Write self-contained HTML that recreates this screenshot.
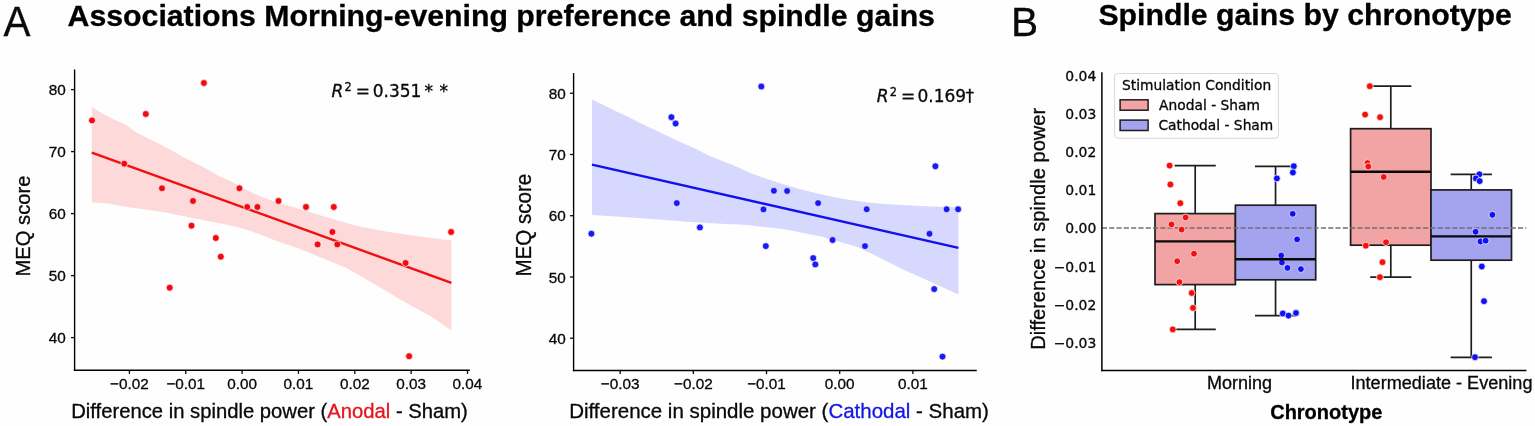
<!DOCTYPE html>
<html><head><meta charset="utf-8"><title>Spindle gains figure</title>
<style>
html,body{margin:0;padding:0;background:#fefefe;}
body{width:1535px;height:426px;overflow:hidden;}
svg{display:block;}
text{stroke:#000;stroke-width:0.3px;}
</style></head>
<body>
<svg width="1535" height="426" viewBox="0 0 1535 426">
<rect width="1535" height="426" fill="#fefefe"/>
<text transform="translate(3.4,35.9) scale(0.94,1)" font-size="43" font-family='"Liberation Sans", Arial, Helvetica, sans-serif' fill="#0a0a0a">A</text>
<text transform="translate(1010.9,35.6) scale(0.98,1.0)" font-size="41.5" font-family='"Liberation Sans", Arial, Helvetica, sans-serif' fill="#0a0a0a">B</text>
<text x="67.60" y="25.80" font-size="30.25" font-family='"Liberation Sans", Arial, sans-serif' text-anchor="start" font-weight="bold" fill="#000" >Associations Morning-evening preference and spindle gains</text>
<text x="1098.40" y="25.30" font-size="30.25" font-family='"Liberation Sans", Arial, sans-serif' text-anchor="start" font-weight="bold" fill="#000" >Spindle gains by chronotype</text>
<polygon points="91.8,107.0 104.1,114.5 113.5,119.2 125.2,124.6 136.9,132.8 148.7,138.7 160.4,144.6 172.1,150.4 183.8,157.5 195.6,163.3 207.3,169.2 219.0,176.2 230.8,180.9 241.5,187.5 251.7,192.5 263.5,197.7 275.2,201.7 286.9,205.2 298.7,208.7 310.4,212.2 322.1,215.7 333.8,219.3 345.6,222.8 357.3,226.0 370.5,228.5 385.8,231.4 401.0,233.8 416.3,235.9 431.5,238.1 451.4,240.5 451.4,330.5 431.5,316.8 401.0,300.0 370.5,281.7 345.6,267.4 333.8,262.7 322.1,258.0 310.4,253.3 298.7,248.6 286.9,244.6 275.2,240.4 263.5,235.7 251.7,231.5 237.5,226.9 225.8,224.6 214.0,222.2 202.3,219.9 190.6,217.5 178.8,215.2 167.1,212.8 155.4,211.0 143.7,209.3 131.9,207.7 120.2,205.8 108.5,203.5 91.8,202.3" fill="#fdd9d9" stroke="none"/>
<line x1="91.80" y1="152.60" x2="451.40" y2="282.80" stroke="#ee1111" stroke-width="2.4" stroke-linecap="butt"/>
<circle cx="92.0" cy="120.4" r="3.45" fill="#f20a12" stroke="#fff" stroke-width="0.7"/>
<circle cx="145.8" cy="114.0" r="3.45" fill="#f20a12" stroke="#fff" stroke-width="0.7"/>
<circle cx="203.9" cy="83.0" r="3.45" fill="#f20a12" stroke="#fff" stroke-width="0.7"/>
<circle cx="124.3" cy="163.7" r="3.45" fill="#f20a12" stroke="#fff" stroke-width="0.7"/>
<circle cx="162.0" cy="188.3" r="3.45" fill="#f20a12" stroke="#fff" stroke-width="0.7"/>
<circle cx="193.0" cy="201.0" r="3.45" fill="#f20a12" stroke="#fff" stroke-width="0.7"/>
<circle cx="239.4" cy="188.3" r="3.45" fill="#f20a12" stroke="#fff" stroke-width="0.7"/>
<circle cx="247.2" cy="207.0" r="3.45" fill="#f20a12" stroke="#fff" stroke-width="0.7"/>
<circle cx="257.4" cy="207.0" r="3.45" fill="#f20a12" stroke="#fff" stroke-width="0.7"/>
<circle cx="278.5" cy="201.0" r="3.45" fill="#f20a12" stroke="#fff" stroke-width="0.7"/>
<circle cx="306.0" cy="207.0" r="3.45" fill="#f20a12" stroke="#fff" stroke-width="0.7"/>
<circle cx="333.8" cy="207.0" r="3.45" fill="#f20a12" stroke="#fff" stroke-width="0.7"/>
<circle cx="191.5" cy="225.7" r="3.45" fill="#f20a12" stroke="#fff" stroke-width="0.7"/>
<circle cx="215.8" cy="238.0" r="3.45" fill="#f20a12" stroke="#fff" stroke-width="0.7"/>
<circle cx="220.8" cy="256.7" r="3.45" fill="#f20a12" stroke="#fff" stroke-width="0.7"/>
<circle cx="169.7" cy="287.7" r="3.45" fill="#f20a12" stroke="#fff" stroke-width="0.7"/>
<circle cx="332.4" cy="232.0" r="3.45" fill="#f20a12" stroke="#fff" stroke-width="0.7"/>
<circle cx="317.6" cy="244.4" r="3.45" fill="#f20a12" stroke="#fff" stroke-width="0.7"/>
<circle cx="337.3" cy="244.4" r="3.45" fill="#f20a12" stroke="#fff" stroke-width="0.7"/>
<circle cx="405.6" cy="263.0" r="3.45" fill="#f20a12" stroke="#fff" stroke-width="0.7"/>
<circle cx="451.1" cy="232.0" r="3.45" fill="#f20a12" stroke="#fff" stroke-width="0.7"/>
<circle cx="409.1" cy="356.2" r="3.45" fill="#f20a12" stroke="#fff" stroke-width="0.7"/>
<line x1="74.60" y1="69.40" x2="74.60" y2="371.00" stroke="#000000" stroke-width="1.4" />
<line x1="73.90" y1="370.30" x2="469.80" y2="370.30" stroke="#000000" stroke-width="1.4" />
<line x1="71.00" y1="337.60" x2="74.60" y2="337.60" stroke="#0a0a0a" stroke-width="1.3" />
<text transform="translate(65.80,343.20) scale(1,1.001)" font-size="15.3" font-family='"Liberation Sans", Arial, sans-serif' text-anchor="end" font-weight="normal" fill="#0a0a0a" >40</text>
<line x1="71.00" y1="275.60" x2="74.60" y2="275.60" stroke="#0a0a0a" stroke-width="1.3" />
<text transform="translate(65.80,281.20) scale(1,1.001)" font-size="15.3" font-family='"Liberation Sans", Arial, sans-serif' text-anchor="end" font-weight="normal" fill="#0a0a0a" >50</text>
<line x1="71.00" y1="213.60" x2="74.60" y2="213.60" stroke="#0a0a0a" stroke-width="1.3" />
<text transform="translate(65.80,219.20) scale(1,1.001)" font-size="15.3" font-family='"Liberation Sans", Arial, sans-serif' text-anchor="end" font-weight="normal" fill="#0a0a0a" >60</text>
<line x1="71.00" y1="151.60" x2="74.60" y2="151.60" stroke="#0a0a0a" stroke-width="1.3" />
<text transform="translate(65.80,157.20) scale(1,1.001)" font-size="15.3" font-family='"Liberation Sans", Arial, sans-serif' text-anchor="end" font-weight="normal" fill="#0a0a0a" >70</text>
<line x1="71.00" y1="89.60" x2="74.60" y2="89.60" stroke="#0a0a0a" stroke-width="1.3" />
<text transform="translate(65.80,95.20) scale(1,1.001)" font-size="15.3" font-family='"Liberation Sans", Arial, sans-serif' text-anchor="end" font-weight="normal" fill="#0a0a0a" >80</text>
<line x1="129.40" y1="370.30" x2="129.40" y2="373.90" stroke="#0a0a0a" stroke-width="1.3" />
<text transform="translate(129.40,389.40) scale(1,1.001)" font-size="15.3" font-family='"Liberation Sans", Arial, sans-serif' text-anchor="middle" font-weight="normal" fill="#0a0a0a" >−0.02</text>
<line x1="185.75" y1="370.30" x2="185.75" y2="373.90" stroke="#0a0a0a" stroke-width="1.3" />
<text transform="translate(185.75,389.40) scale(1,1.001)" font-size="15.3" font-family='"Liberation Sans", Arial, sans-serif' text-anchor="middle" font-weight="normal" fill="#0a0a0a" >−0.01</text>
<line x1="242.10" y1="370.30" x2="242.10" y2="373.90" stroke="#0a0a0a" stroke-width="1.3" />
<text transform="translate(242.10,389.40) scale(1,1.001)" font-size="15.3" font-family='"Liberation Sans", Arial, sans-serif' text-anchor="middle" font-weight="normal" fill="#0a0a0a" >0.00</text>
<line x1="298.45" y1="370.30" x2="298.45" y2="373.90" stroke="#0a0a0a" stroke-width="1.3" />
<text transform="translate(298.45,389.40) scale(1,1.001)" font-size="15.3" font-family='"Liberation Sans", Arial, sans-serif' text-anchor="middle" font-weight="normal" fill="#0a0a0a" >0.01</text>
<line x1="354.80" y1="370.30" x2="354.80" y2="373.90" stroke="#0a0a0a" stroke-width="1.3" />
<text transform="translate(354.80,389.40) scale(1,1.001)" font-size="15.3" font-family='"Liberation Sans", Arial, sans-serif' text-anchor="middle" font-weight="normal" fill="#0a0a0a" >0.02</text>
<line x1="411.15" y1="370.30" x2="411.15" y2="373.90" stroke="#0a0a0a" stroke-width="1.3" />
<text transform="translate(411.15,389.40) scale(1,1.001)" font-size="15.3" font-family='"Liberation Sans", Arial, sans-serif' text-anchor="middle" font-weight="normal" fill="#0a0a0a" >0.03</text>
<line x1="467.50" y1="370.30" x2="467.50" y2="373.90" stroke="#0a0a0a" stroke-width="1.3" />
<text transform="translate(467.50,389.40) scale(1,1.001)" font-size="15.3" font-family='"Liberation Sans", Arial, sans-serif' text-anchor="middle" font-weight="normal" fill="#0a0a0a" >0.04</text>
<polygon points="592.0,99.4 603.8,105.2 615.5,111.1 627.2,116.3 639.0,122.4 650.7,128.0 662.4,133.4 674.1,139.3 685.9,144.4 697.6,149.8 709.3,155.7 721.1,160.4 732.8,165.1 745.0,170.6 751.7,173.5 763.5,177.7 775.2,181.7 786.9,185.2 798.7,188.7 810.4,191.8 822.1,194.6 833.8,196.9 845.6,199.3 857.3,201.1 869.0,202.5 880.8,203.7 901.0,204.9 931.5,206.4 958.4,207.5 958.4,294.4 931.5,282.2 901.0,268.5 870.5,253.2 857.3,246.9 845.6,243.4 833.8,240.3 822.1,236.8 810.4,234.5 798.7,232.1 786.9,229.8 775.2,228.1 763.5,227.0 751.7,225.5 740.0,224.6 725.8,224.0 690.6,222.0 655.4,219.2 620.2,216.8 592.0,215.0" fill="#d7d8fe" stroke="none"/>
<line x1="592.00" y1="164.60" x2="958.40" y2="247.80" stroke="#1111ee" stroke-width="2.4" stroke-linecap="butt"/>
<circle cx="591.4" cy="233.7" r="3.45" fill="#1a1af5" stroke="#fff" stroke-width="0.7"/>
<circle cx="671.4" cy="117.2" r="3.45" fill="#1a1af5" stroke="#fff" stroke-width="0.7"/>
<circle cx="675.6" cy="123.5" r="3.45" fill="#1a1af5" stroke="#fff" stroke-width="0.7"/>
<circle cx="676.8" cy="203.1" r="3.45" fill="#1a1af5" stroke="#fff" stroke-width="0.7"/>
<circle cx="699.9" cy="227.4" r="3.45" fill="#1a1af5" stroke="#fff" stroke-width="0.7"/>
<circle cx="761.3" cy="86.5" r="3.45" fill="#1a1af5" stroke="#fff" stroke-width="0.7"/>
<circle cx="763.5" cy="209.4" r="3.45" fill="#1a1af5" stroke="#fff" stroke-width="0.7"/>
<circle cx="773.9" cy="190.8" r="3.45" fill="#1a1af5" stroke="#fff" stroke-width="0.7"/>
<circle cx="787.1" cy="191.0" r="3.45" fill="#1a1af5" stroke="#fff" stroke-width="0.7"/>
<circle cx="818.1" cy="203.1" r="3.45" fill="#1a1af5" stroke="#fff" stroke-width="0.7"/>
<circle cx="866.7" cy="209.3" r="3.45" fill="#1a1af5" stroke="#fff" stroke-width="0.7"/>
<circle cx="935.4" cy="166.3" r="3.45" fill="#1a1af5" stroke="#fff" stroke-width="0.7"/>
<circle cx="946.6" cy="209.3" r="3.45" fill="#1a1af5" stroke="#fff" stroke-width="0.7"/>
<circle cx="958.1" cy="209.3" r="3.45" fill="#1a1af5" stroke="#fff" stroke-width="0.7"/>
<circle cx="929.5" cy="233.8" r="3.45" fill="#1a1af5" stroke="#fff" stroke-width="0.7"/>
<circle cx="832.6" cy="240.0" r="3.45" fill="#1a1af5" stroke="#fff" stroke-width="0.7"/>
<circle cx="865.0" cy="246.1" r="3.45" fill="#1a1af5" stroke="#fff" stroke-width="0.7"/>
<circle cx="813.2" cy="258.1" r="3.45" fill="#1a1af5" stroke="#fff" stroke-width="0.7"/>
<circle cx="815.3" cy="264.4" r="3.45" fill="#1a1af5" stroke="#fff" stroke-width="0.7"/>
<circle cx="934.2" cy="289.1" r="3.45" fill="#1a1af5" stroke="#fff" stroke-width="0.7"/>
<circle cx="942.5" cy="356.6" r="3.45" fill="#1a1af5" stroke="#fff" stroke-width="0.7"/>
<circle cx="765.8" cy="246.1" r="3.45" fill="#1a1af5" stroke="#fff" stroke-width="0.7"/>
<line x1="573.60" y1="72.90" x2="573.60" y2="371.20" stroke="#000000" stroke-width="1.4" />
<line x1="572.90" y1="370.50" x2="976.80" y2="370.50" stroke="#000000" stroke-width="1.4" />
<line x1="570.00" y1="338.21" x2="573.60" y2="338.21" stroke="#0a0a0a" stroke-width="1.3" />
<text transform="translate(565.80,343.81) scale(1,1.001)" font-size="15.3" font-family='"Liberation Sans", Arial, sans-serif' text-anchor="end" font-weight="normal" fill="#0a0a0a" >40</text>
<line x1="570.00" y1="276.97" x2="573.60" y2="276.97" stroke="#0a0a0a" stroke-width="1.3" />
<text transform="translate(565.80,282.57) scale(1,1.001)" font-size="15.3" font-family='"Liberation Sans", Arial, sans-serif' text-anchor="end" font-weight="normal" fill="#0a0a0a" >50</text>
<line x1="570.00" y1="215.73" x2="573.60" y2="215.73" stroke="#0a0a0a" stroke-width="1.3" />
<text transform="translate(565.80,221.33) scale(1,1.001)" font-size="15.3" font-family='"Liberation Sans", Arial, sans-serif' text-anchor="end" font-weight="normal" fill="#0a0a0a" >60</text>
<line x1="570.00" y1="154.49" x2="573.60" y2="154.49" stroke="#0a0a0a" stroke-width="1.3" />
<text transform="translate(565.80,160.09) scale(1,1.001)" font-size="15.3" font-family='"Liberation Sans", Arial, sans-serif' text-anchor="end" font-weight="normal" fill="#0a0a0a" >70</text>
<line x1="570.00" y1="93.25" x2="573.60" y2="93.25" stroke="#0a0a0a" stroke-width="1.3" />
<text transform="translate(565.80,98.85) scale(1,1.001)" font-size="15.3" font-family='"Liberation Sans", Arial, sans-serif' text-anchor="end" font-weight="normal" fill="#0a0a0a" >80</text>
<line x1="620.16" y1="370.50" x2="620.16" y2="374.10" stroke="#0a0a0a" stroke-width="1.3" />
<text transform="translate(620.16,389.40) scale(1,1.001)" font-size="15.3" font-family='"Liberation Sans", Arial, sans-serif' text-anchor="middle" font-weight="normal" fill="#0a0a0a" >−0.03</text>
<line x1="693.34" y1="370.50" x2="693.34" y2="374.10" stroke="#0a0a0a" stroke-width="1.3" />
<text transform="translate(693.34,389.40) scale(1,1.001)" font-size="15.3" font-family='"Liberation Sans", Arial, sans-serif' text-anchor="middle" font-weight="normal" fill="#0a0a0a" >−0.02</text>
<line x1="766.52" y1="370.50" x2="766.52" y2="374.10" stroke="#0a0a0a" stroke-width="1.3" />
<text transform="translate(766.52,389.40) scale(1,1.001)" font-size="15.3" font-family='"Liberation Sans", Arial, sans-serif' text-anchor="middle" font-weight="normal" fill="#0a0a0a" >−0.01</text>
<line x1="839.70" y1="370.50" x2="839.70" y2="374.10" stroke="#0a0a0a" stroke-width="1.3" />
<text transform="translate(839.70,389.40) scale(1,1.001)" font-size="15.3" font-family='"Liberation Sans", Arial, sans-serif' text-anchor="middle" font-weight="normal" fill="#0a0a0a" >0.00</text>
<line x1="912.88" y1="370.50" x2="912.88" y2="374.10" stroke="#0a0a0a" stroke-width="1.3" />
<text transform="translate(912.88,389.40) scale(1,1.001)" font-size="15.3" font-family='"Liberation Sans", Arial, sans-serif' text-anchor="middle" font-weight="normal" fill="#0a0a0a" >0.01</text>
<text transform="translate(71.2,417.5) scale(1,1.02)" font-size="20.25" font-family='"Liberation Sans", Arial, Helvetica, sans-serif' fill="#0a0a0a">Difference in spindle power (<tspan fill="#e8141c" stroke="#e8141c">Anodal</tspan> - Sham)</text>
<text transform="translate(569.2,417.8) scale(1,1.02)" font-size="20.5" font-family='"Liberation Sans", Arial, Helvetica, sans-serif' fill="#0a0a0a">Difference in spindle power (<tspan fill="#1515e6" stroke="#1515e6">Cathodal</tspan> - Sham)</text>
<text transform="translate(30.4,276.5) rotate(-90) scale(0.98,1.02)" font-size="20.6" font-family='"Liberation Sans", Arial, Helvetica, sans-serif' fill="#0a0a0a">MEQ score</text>
<text transform="translate(530.6,276.6) rotate(-90) scale(0.98,1.02)" font-size="21.0" font-family='"Liberation Sans", Arial, Helvetica, sans-serif' fill="#0a0a0a">MEQ score</text>
<text x="331.40" y="96.80" font-size="17" font-family='"DejaVu Sans", "Liberation Sans", sans-serif' font-style="italic" fill="#0a0a0a">R</text>
<text x="344.50" y="91.20" font-size="11.4" font-family='"DejaVu Sans", "Liberation Sans", sans-serif' fill="#0a0a0a">2</text>
<text x="355.70" y="96.80" font-size="17" font-family='"DejaVu Sans", "Liberation Sans", sans-serif' fill="#0a0a0a">=</text>
<text x="372.70" y="96.80" font-size="17" font-family='"DejaVu Sans", "Liberation Sans", sans-serif' fill="#0a0a0a">0.351</text>
<text x="424.40" y="96.80" font-size="17" font-family='"DejaVu Sans", "Liberation Sans", sans-serif' fill="#0a0a0a">*</text>
<text x="439.60" y="96.80" font-size="17" font-family='"DejaVu Sans", "Liberation Sans", sans-serif' fill="#0a0a0a">*</text>
<text x="876.70" y="101.60" font-size="17" font-family='"DejaVu Sans", "Liberation Sans", sans-serif' font-style="italic" fill="#0a0a0a">R</text>
<text x="889.80" y="96.00" font-size="11.4" font-family='"DejaVu Sans", "Liberation Sans", sans-serif' fill="#0a0a0a">2</text>
<text x="901.00" y="101.60" font-size="17" font-family='"DejaVu Sans", "Liberation Sans", sans-serif' fill="#0a0a0a">=</text>
<text x="917.50" y="101.60" font-size="17" font-family='"DejaVu Sans", "Liberation Sans", sans-serif' fill="#0a0a0a">0.169</text>
<text x="965.40" y="101.60" font-size="17" font-family='"DejaVu Sans", "Liberation Sans", sans-serif' fill="#0a0a0a">†</text>
<line x1="1195.20" y1="165.70" x2="1195.20" y2="213.60" stroke="#1e1e1e" stroke-width="1.7" />
<line x1="1195.20" y1="284.60" x2="1195.20" y2="329.40" stroke="#1e1e1e" stroke-width="1.7" />
<line x1="1174.60" y1="165.70" x2="1215.80" y2="165.70" stroke="#1e1e1e" stroke-width="1.7" />
<line x1="1174.60" y1="329.40" x2="1215.80" y2="329.40" stroke="#1e1e1e" stroke-width="1.7" />
<rect x="1155.00" y="213.60" width="80.40" height="71.00" fill="#f2a3a3" stroke="#1e1e1e" stroke-width="1.7"/>
<line x1="1275.55" y1="166.40" x2="1275.55" y2="205.20" stroke="#1e1e1e" stroke-width="1.7" />
<line x1="1275.55" y1="279.80" x2="1275.55" y2="315.60" stroke="#1e1e1e" stroke-width="1.7" />
<line x1="1254.98" y1="166.40" x2="1296.13" y2="166.40" stroke="#1e1e1e" stroke-width="1.7" />
<line x1="1254.98" y1="315.60" x2="1296.13" y2="315.60" stroke="#1e1e1e" stroke-width="1.7" />
<rect x="1235.40" y="205.20" width="80.30" height="74.60" fill="#a3a3f0" stroke="#1e1e1e" stroke-width="1.7"/>
<line x1="1390.80" y1="86.20" x2="1390.80" y2="128.70" stroke="#1e1e1e" stroke-width="1.7" />
<line x1="1390.80" y1="245.20" x2="1390.80" y2="277.20" stroke="#1e1e1e" stroke-width="1.7" />
<line x1="1370.20" y1="86.20" x2="1411.40" y2="86.20" stroke="#1e1e1e" stroke-width="1.7" />
<line x1="1370.20" y1="277.20" x2="1411.40" y2="277.20" stroke="#1e1e1e" stroke-width="1.7" />
<rect x="1350.60" y="128.70" width="80.40" height="116.50" fill="#f2a3a3" stroke="#1e1e1e" stroke-width="1.7"/>
<line x1="1471.25" y1="174.30" x2="1471.25" y2="189.90" stroke="#1e1e1e" stroke-width="1.7" />
<line x1="1471.25" y1="260.20" x2="1471.25" y2="357.30" stroke="#1e1e1e" stroke-width="1.7" />
<line x1="1450.62" y1="174.30" x2="1491.88" y2="174.30" stroke="#1e1e1e" stroke-width="1.7" />
<line x1="1450.62" y1="357.30" x2="1491.88" y2="357.30" stroke="#1e1e1e" stroke-width="1.7" />
<rect x="1431.00" y="189.90" width="80.50" height="70.30" fill="#a3a3f0" stroke="#1e1e1e" stroke-width="1.7"/>
<line x1="1101.90" y1="228.00" x2="1526.40" y2="228.00" stroke="#707070" stroke-width="1.4" stroke-dasharray="5.1,2.2"/>
<circle cx="1169.6" cy="165.6" r="3.4" fill="#f41010" stroke="#fff" stroke-width="0.7"/>
<circle cx="1170.4" cy="184.5" r="3.4" fill="#f41010" stroke="#fff" stroke-width="0.7"/>
<circle cx="1180.3" cy="203.2" r="3.4" fill="#f41010" stroke="#fff" stroke-width="0.7"/>
<circle cx="1185.6" cy="217.4" r="3.4" fill="#f41010" stroke="#fff" stroke-width="0.7"/>
<circle cx="1171.5" cy="224.4" r="3.4" fill="#f41010" stroke="#fff" stroke-width="0.7"/>
<circle cx="1181.6" cy="229.6" r="3.4" fill="#f41010" stroke="#fff" stroke-width="0.7"/>
<circle cx="1194.0" cy="253.7" r="3.4" fill="#f41010" stroke="#fff" stroke-width="0.7"/>
<circle cx="1177.2" cy="261.2" r="3.4" fill="#f41010" stroke="#fff" stroke-width="0.7"/>
<circle cx="1179.4" cy="282.1" r="3.4" fill="#f41010" stroke="#fff" stroke-width="0.7"/>
<circle cx="1191.7" cy="293.0" r="3.4" fill="#f41010" stroke="#fff" stroke-width="0.7"/>
<circle cx="1193.0" cy="307.9" r="3.4" fill="#f41010" stroke="#fff" stroke-width="0.7"/>
<circle cx="1172.8" cy="329.4" r="3.4" fill="#f41010" stroke="#fff" stroke-width="0.7"/>
<circle cx="1369.8" cy="86.2" r="3.4" fill="#f41010" stroke="#fff" stroke-width="0.7"/>
<circle cx="1365.1" cy="114.6" r="3.4" fill="#f41010" stroke="#fff" stroke-width="0.7"/>
<circle cx="1380.1" cy="117.2" r="3.4" fill="#f41010" stroke="#fff" stroke-width="0.7"/>
<circle cx="1367.5" cy="163.0" r="3.4" fill="#f41010" stroke="#fff" stroke-width="0.7"/>
<circle cx="1368.3" cy="166.5" r="3.4" fill="#f41010" stroke="#fff" stroke-width="0.7"/>
<circle cx="1383.7" cy="177.0" r="3.4" fill="#f41010" stroke="#fff" stroke-width="0.7"/>
<circle cx="1386.0" cy="242.2" r="3.4" fill="#f41010" stroke="#fff" stroke-width="0.7"/>
<circle cx="1365.8" cy="245.7" r="3.4" fill="#f41010" stroke="#fff" stroke-width="0.7"/>
<circle cx="1382.5" cy="262.2" r="3.4" fill="#f41010" stroke="#fff" stroke-width="0.7"/>
<circle cx="1379.9" cy="277.2" r="3.4" fill="#f41010" stroke="#fff" stroke-width="0.7"/>
<circle cx="1293.8" cy="166.2" r="3.4" fill="#1010f4" stroke="#fff" stroke-width="0.7"/>
<circle cx="1292.9" cy="172.5" r="3.4" fill="#1010f4" stroke="#fff" stroke-width="0.7"/>
<circle cx="1276.9" cy="178.4" r="3.4" fill="#1010f4" stroke="#fff" stroke-width="0.7"/>
<circle cx="1292.7" cy="213.8" r="3.4" fill="#1010f4" stroke="#fff" stroke-width="0.7"/>
<circle cx="1297.1" cy="239.4" r="3.4" fill="#1010f4" stroke="#fff" stroke-width="0.7"/>
<circle cx="1281.2" cy="255.5" r="3.4" fill="#1010f4" stroke="#fff" stroke-width="0.7"/>
<circle cx="1281.9" cy="262.5" r="3.4" fill="#1010f4" stroke="#fff" stroke-width="0.7"/>
<circle cx="1287.5" cy="267.9" r="3.4" fill="#1010f4" stroke="#fff" stroke-width="0.7"/>
<circle cx="1300.9" cy="269.1" r="3.4" fill="#1010f4" stroke="#fff" stroke-width="0.7"/>
<circle cx="1282.8" cy="313.5" r="3.4" fill="#1010f4" stroke="#fff" stroke-width="0.7"/>
<circle cx="1288.5" cy="315.6" r="3.4" fill="#1010f4" stroke="#fff" stroke-width="0.7"/>
<circle cx="1296.0" cy="313.0" r="3.4" fill="#1010f4" stroke="#fff" stroke-width="0.7"/>
<circle cx="1479.4" cy="174.3" r="3.4" fill="#1010f4" stroke="#fff" stroke-width="0.7"/>
<circle cx="1475.9" cy="178.4" r="3.4" fill="#1010f4" stroke="#fff" stroke-width="0.7"/>
<circle cx="1479.7" cy="181.1" r="3.4" fill="#1010f4" stroke="#fff" stroke-width="0.7"/>
<circle cx="1492.4" cy="214.8" r="3.4" fill="#1010f4" stroke="#fff" stroke-width="0.7"/>
<circle cx="1475.6" cy="231.8" r="3.4" fill="#1010f4" stroke="#fff" stroke-width="0.7"/>
<circle cx="1480.5" cy="241.5" r="3.4" fill="#1010f4" stroke="#fff" stroke-width="0.7"/>
<circle cx="1485.6" cy="240.7" r="3.4" fill="#1010f4" stroke="#fff" stroke-width="0.7"/>
<circle cx="1481.8" cy="266.5" r="3.4" fill="#1010f4" stroke="#fff" stroke-width="0.7"/>
<circle cx="1484.0" cy="301.2" r="3.4" fill="#1010f4" stroke="#fff" stroke-width="0.7"/>
<circle cx="1475.0" cy="357.2" r="3.4" fill="#1010f4" stroke="#fff" stroke-width="0.7"/>
<line x1="1155.00" y1="241.40" x2="1235.40" y2="241.40" stroke="#0a0a0a" stroke-width="2.4" />
<line x1="1235.40" y1="259.20" x2="1315.70" y2="259.20" stroke="#0a0a0a" stroke-width="2.4" />
<line x1="1350.60" y1="171.80" x2="1431.00" y2="171.80" stroke="#0a0a0a" stroke-width="2.4" />
<line x1="1431.00" y1="236.40" x2="1511.50" y2="236.40" stroke="#0a0a0a" stroke-width="2.4" />
<line x1="1101.90" y1="72.20" x2="1101.90" y2="371.30" stroke="#000000" stroke-width="1.5" />
<line x1="1101.20" y1="370.60" x2="1526.40" y2="370.60" stroke="#000000" stroke-width="1.5" />
<text x="1096.30" y="80.96" font-size="13.9" font-family='"DejaVu Sans", "Liberation Sans", sans-serif' text-anchor="end" font-weight="normal" fill="#0a0a0a" >0.04</text>
<text x="1096.30" y="119.07" font-size="13.9" font-family='"DejaVu Sans", "Liberation Sans", sans-serif' text-anchor="end" font-weight="normal" fill="#0a0a0a" >0.03</text>
<text x="1096.30" y="157.18" font-size="13.9" font-family='"DejaVu Sans", "Liberation Sans", sans-serif' text-anchor="end" font-weight="normal" fill="#0a0a0a" >0.02</text>
<text x="1096.30" y="195.29" font-size="13.9" font-family='"DejaVu Sans", "Liberation Sans", sans-serif' text-anchor="end" font-weight="normal" fill="#0a0a0a" >0.01</text>
<text x="1096.30" y="233.40" font-size="13.9" font-family='"DejaVu Sans", "Liberation Sans", sans-serif' text-anchor="end" font-weight="normal" fill="#0a0a0a" >0.00</text>
<text x="1096.30" y="271.51" font-size="13.9" font-family='"DejaVu Sans", "Liberation Sans", sans-serif' text-anchor="end" font-weight="normal" fill="#0a0a0a" >−0.01</text>
<text x="1096.30" y="309.62" font-size="13.9" font-family='"DejaVu Sans", "Liberation Sans", sans-serif' text-anchor="end" font-weight="normal" fill="#0a0a0a" >−0.02</text>
<text x="1096.30" y="347.73" font-size="13.9" font-family='"DejaVu Sans", "Liberation Sans", sans-serif' text-anchor="end" font-weight="normal" fill="#0a0a0a" >−0.03</text>
<text transform="translate(1207.00,389.30) scale(1,1.02)" font-size="18.0" font-family='"Liberation Sans", Arial, Helvetica, sans-serif' text-anchor="start" font-weight="normal" fill="#0a0a0a" >Morning</text>
<text transform="translate(1350.50,389.30) scale(1,1.02)" font-size="18.1" font-family='"Liberation Sans", Arial, Helvetica, sans-serif' text-anchor="start" font-weight="normal" fill="#0a0a0a" >Intermediate - Evening</text>
<text transform="translate(1270.20,418.50) scale(1,1.02)" font-size="20.0" font-family='"Liberation Sans", Arial, Helvetica, sans-serif' text-anchor="start" font-weight="bold" fill="#000" >Chronotype</text>
<text transform="translate(1044.9,349.8) rotate(-90) scale(1,1.02)" font-size="20.1" font-family='"Liberation Sans", Arial, Helvetica, sans-serif' fill="#0a0a0a">Difference in spindle power</text>
<rect x="1114.6" y="73.5" width="163.8" height="64.7" rx="3" ry="3" fill="#fff" fill-opacity="0.85" stroke="#d8d8d8" stroke-width="1"/>
<text x="1122.00" y="90.00" font-size="13.8" font-family='"DejaVu Sans", "Liberation Sans", sans-serif' text-anchor="start" font-weight="normal" fill="#0a0a0a" >Stimulation Condition</text>
<rect x="1120.1" y="99.8" width="28.0" height="10.4" fill="#f2a3a3" stroke="#1e1e1e" stroke-width="1.5"/>
<rect x="1120.1" y="120.1" width="28.0" height="10.4" fill="#a3a3f0" stroke="#1e1e1e" stroke-width="1.5"/>
<text x="1159.10" y="110.10" font-size="13.8" font-family='"DejaVu Sans", "Liberation Sans", sans-serif' text-anchor="start" font-weight="normal" fill="#0a0a0a" >Anodal - Sham</text>
<text x="1158.40" y="129.80" font-size="13.8" font-family='"DejaVu Sans", "Liberation Sans", sans-serif' text-anchor="start" font-weight="normal" fill="#0a0a0a" >Cathodal - Sham</text>
</svg>
</body></html>
